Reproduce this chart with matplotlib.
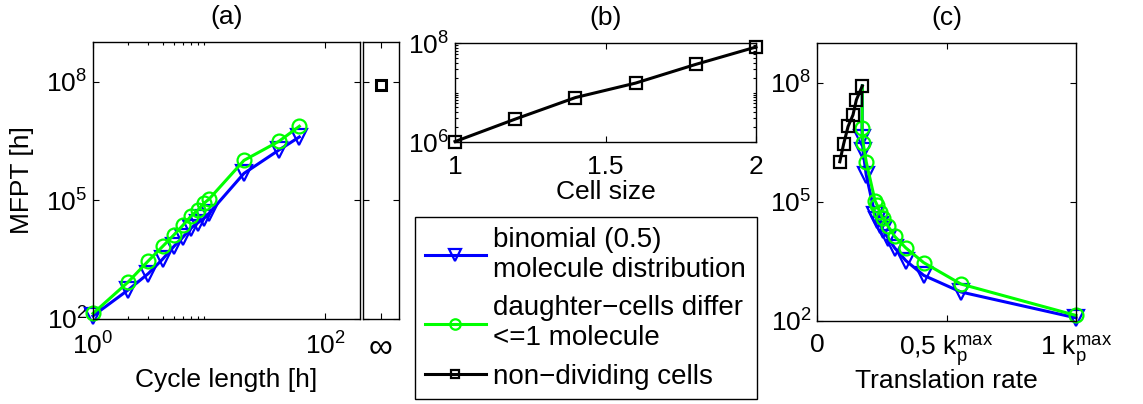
import matplotlib
matplotlib.use("Agg")
import matplotlib.pyplot as plt
from matplotlib.ticker import FixedLocator, NullFormatter, NullLocator, LogFormatterSciNotation

plt.rcParams['font.family'] = ['Liberation Sans', 'DejaVu Sans']
plt.rcParams['mathtext.fontset'] = 'custom'
plt.rcParams['mathtext.rm'] = 'Liberation Sans'
plt.rcParams['font.size'] = 19

# %% data
cycle_length = [1, 2, 3, 4, 5, 6, 7, 8, 9, 10, 20, 40, 60]
mfpt_binomial = [120, 537, 1410, 3310, 6920, 12000, 20000, 26900, 34700, 46800, 4.79e5, 1.86e6, 3.98e6]
mfpt_differ1 = [138, 851, 2950, 6920, 13500, 24000, 39800, 56200, 83200, 1.07e5, 1.02e6, 3.09e6, 7.41e6]
mfpt_inf = 8.3e7  # non-dividing cells, infinite cycle length

cell_size = [1, 1.2, 1.4, 1.6, 1.8, 2]
mfpt_nondiv = [1.02e6, 2.9e6, 7.9e6, 1.55e7, 3.7e7, 8.3e7]

# translation rate (fraction of kp max), dividing cells: one per cycle length, then the infinite one
rate_dividing = [1.0, 0.556, 0.412, 0.343, 0.300, 0.275, 0.253, 0.242, 0.232, 0.224, 0.190, 0.178, 0.174, 0.175]
rate_nondiv = [0.088, 0.103, 0.120, 0.139, 0.152, 0.175]

legend_labels = ["binomial (0.5)\nmolecule distribution",
                 "daughter\u2212cells differ\n<=1 molecule",
                 "non\u2212dividing cells"]

BLUE = "#0000ff"
GREEN = "#00ff00"
LW = 2.2
MS = 10
MEW = 1.6

W, H = 1143, 404


def box(px_left, px_top, px_right, px_bottom):
    return [px_left / W, 1 - px_bottom / H, (px_right - px_left) / W, (px_bottom - px_top) / H]


def matlab_style(ax):
    ax.tick_params(which='both', direction='in', top=True, right=True, width=0.8)
    ax.tick_params(which='major', length=4)
    ax.tick_params(which='minor', length=2)
    for s in ax.spines.values():
        s.set_linewidth(1.0)


fig = plt.figure(figsize=(W / 100, H / 100), dpi=100)

# %% (a)
ax_a = fig.add_axes(box(93, 42, 360, 319))
l_bin, = ax_a.plot(cycle_length, mfpt_binomial, '-v', color=BLUE, lw=LW, ms=MS + 1.5, mfc='none', mew=MEW, clip_on=False)
l_dif, = ax_a.plot(cycle_length, mfpt_differ1, '-o', color=GREEN, lw=LW, ms=MS, mfc='none', mew=MEW, clip_on=False)
ax_a.set_xscale('log')
ax_a.set_yscale('log')
ax_a.set_xlim(1, 200)
ax_a.set_ylim(1e2, 1e9)
ax_a.xaxis.set_major_locator(FixedLocator([1, 100]))
ax_a.xaxis.set_minor_locator(FixedLocator([2, 3, 4, 5, 6, 7, 8, 9]))
ax_a.xaxis.set_minor_formatter(NullFormatter())
ax_a.yaxis.set_major_locator(FixedLocator([1e2, 1e5, 1e8]))
ax_a.yaxis.set_minor_locator(NullLocator())
ax_a.xaxis.set_major_formatter(LogFormatterSciNotation())
ax_a.yaxis.set_major_formatter(LogFormatterSciNotation())
matlab_style(ax_a)
ax_a.tick_params(axis='x', which='major', pad=10)
ax_a.tick_params(axis='y', which='major', pad=4)
ax_a.set_xlabel("Cycle length [h]", labelpad=6)
ax_a.set_ylabel("MFPT [h]")
ax_a.yaxis.set_label_coords(-0.22, 0.5)
ax_a.set_title("(a)", pad=13, fontsize=19)

# infinite cycle length inset
ax_i = fig.add_axes(box(363, 42, 399, 319))
ax_i.plot([0.5], [mfpt_inf], 's', color='k', ms=6.5, mfc='white', mew=2.2, clip_on=False)
ax_i.set_yscale('log')
ax_i.set_xlim(0, 1)
ax_i.set_ylim(1e2, 1e9)
ax_i.xaxis.set_major_locator(FixedLocator([0.5]))
ax_i.set_xticklabels(["\u221e"], fontsize=24)
ax_i.yaxis.set_major_locator(FixedLocator([1e2, 1e5, 1e8]))
ax_i.yaxis.set_minor_locator(NullLocator())
ax_i.yaxis.set_major_formatter(NullFormatter())
matlab_style(ax_i)
ax_i.tick_params(axis='x', pad=10)

# %% (b)
ax_b = fig.add_axes(box(455, 43, 756, 142))
l_non, = ax_b.plot(cell_size, mfpt_nondiv, '-s', color='k', lw=LW, ms=8, mfc='none', mew=MEW, clip_on=False)
ax_b.set_yscale('log')
ax_b.set_xlim(1, 2)
ax_b.set_ylim(1e6, 1e8)
ax_b.xaxis.set_major_locator(FixedLocator([1, 1.5, 2]))
ax_b.set_xticklabels(["1", "1.5", "2"])
ax_b.yaxis.set_major_locator(FixedLocator([1e6, 1e8]))
ax_b.yaxis.set_minor_locator(FixedLocator([k * 1e6 for k in range(2, 10)] + [k * 1e7 for k in range(1, 10)]))
ax_b.yaxis.set_minor_formatter(NullFormatter())
ax_b.yaxis.set_major_formatter(LogFormatterSciNotation())
matlab_style(ax_b)
ax_b.tick_params(axis='x', which='major', pad=9)
ax_b.tick_params(axis='y', which='major', pad=4)
ax_b.set_xlabel("Cell size", labelpad=1)
ax_b.set_title("(b)", pad=13, fontsize=19)

# %% (c)
ax_c = fig.add_axes(box(817, 43, 1076, 321))
n_div = len(cycle_length)
ax_c.plot(rate_dividing, mfpt_binomial + [mfpt_inf], '-v', color=BLUE, lw=LW, ms=MS + 1.5, mfc='none', mew=MEW,
          markevery=list(range(n_div)), clip_on=False)
ax_c.plot(rate_dividing, mfpt_differ1 + [mfpt_inf], '-o', color=GREEN, lw=LW, ms=MS, mfc='none', mew=MEW,
          markevery=list(range(n_div)), clip_on=False)
ax_c.plot(rate_nondiv, mfpt_nondiv, '-s', color='k', lw=LW, ms=8, mfc='none', mew=MEW, clip_on=False)
ax_c.set_yscale('log')
ax_c.set_xlim(0, 1)
ax_c.set_ylim(1e2, 1e9)
ax_c.xaxis.set_major_locator(FixedLocator([0, 0.5, 1]))
ax_c.set_xticklabels(["0", r"0,5 $\mathregular{k_p^{max}}$", r"1 $\mathregular{k_p^{max}}$"])
ax_c.yaxis.set_major_locator(FixedLocator([1e2, 1e5, 1e8]))
ax_c.yaxis.set_minor_locator(NullLocator())
ax_c.yaxis.set_major_formatter(LogFormatterSciNotation())
matlab_style(ax_c)
ax_c.tick_params(axis='x', which='major', pad=9)
ax_c.tick_params(axis='y', which='major', pad=4)
ax_c.set_xlabel("Translation rate", labelpad=0)
ax_c.set_title("(c)", pad=13, fontsize=19)

# %% legend
leg = fig.legend([l_bin, l_dif, l_non], legend_labels,
                 loc='upper left', bbox_to_anchor=box(415, 217, 757, 398),
                 mode='expand', fancybox=False, edgecolor='k', framealpha=1,
                 borderpad=0.35, labelspacing=0.45, handlelength=2.2, handletextpad=0.25,
                 borderaxespad=0, markerscale=0.75, numpoints=1, fontsize=20)
leg.get_frame().set_linewidth(1.0)
for t in leg.get_texts():
    t.set_linespacing(1.2)

fig.savefig("out.png", dpi=100)
